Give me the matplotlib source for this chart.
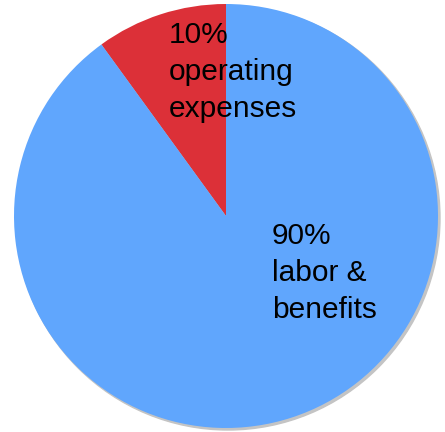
import matplotlib.pyplot as plt
from matplotlib.patches import Circle

# slice data
labels = ["10%\noperating\nexpenses", "90%\nlabor &\nbenefits"]
shares = [10, 90]
colors = ["#dc3038", "#60a6fd"]

plt.rcParams['font.family'] = ['Liberation Sans', 'DejaVu Sans']

fig = plt.figure(figsize=(4.45, 4.32), dpi=100)
ax = fig.add_axes([0, 0, 1, 1])

cx, cy, r = 226, 216, 212

# soft grey rim on the right side
ax.add_patch(Circle((cx + 2, cy - 2), r, color="#c4c4c4", zorder=0))

ax.pie(shares, colors=colors, startangle=90, counterclock=True,
       center=(cx, cy), radius=r, frame=True,
       wedgeprops=dict(linewidth=0))
ax.set_xlim(0, 445)
ax.set_ylim(0, 432)
ax.set_aspect('equal')
ax.axis('off')

ax.text(169, 432 - 21, labels[0], fontsize=21.5, va='top', ha='left',
        linespacing=1.4)
ax.text(272, 432 - 222, labels[1], fontsize=21.5, va='top', ha='left',
        linespacing=1.4)

fig.savefig("out.png", dpi=100)
